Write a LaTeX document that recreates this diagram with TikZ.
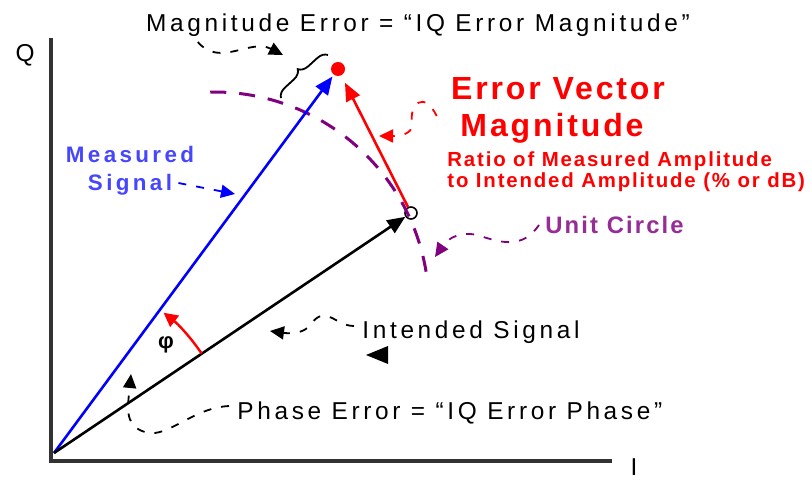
\documentclass[tikz,border=0pt]{standalone}
\usepackage{fontspec}
\setmainfont{Liberation Sans}
\newfontfamily\widefont[LetterSpace=15]{Liberation Sans}
\newfontfamily\boldfont[LetterSpace=9]{Liberation Sans}
\usetikzlibrary{positioning, arrows.meta, decorations.pathreplacing}
\definecolor{axisgray}{RGB}{50,50,50}
\definecolor{evmred}{RGB}{255,0,0}
\definecolor{measblue}{RGB}{0,0,255}
\definecolor{bluetext}{RGB}{70,70,255}
\definecolor{unitpurple}{RGB}{128,0,128}
\definecolor{purpletext}{RGB}{150,45,150}

\begin{document}
\begin{tikzpicture}[
        x=0.5pt, y=-0.5pt,
        axis/.style={line width=1.6pt, draw=axisgray},
        vec/.style={line width=1.3pt, -{Triangle[length=9pt, width=7.5pt]}},
        unitarc/.style={line width=1.5pt, draw=unitpurple, dash pattern=on 8pt off 6.5pt},
        callout/.style={line width=0.9pt, dash pattern=on 4pt off 5pt, -{Triangle[length=7pt, width=6.5pt]}},
        lbl/.style={inner sep=0pt, font=\widefont\fontsize{12.2}{14}\selectfont},
        bluelbl/.style={inner sep=0pt, text=bluetext, font=\widefont\bfseries\fontsize{11.2}{14}\selectfont},
        redbig/.style={inner sep=0pt, text=evmred, font=\boldfont\bfseries\fontsize{16}{18}\selectfont},
        redsmall/.style={inner sep=0pt, text=evmred, font=\boldfont\bfseries\fontsize{10.2}{11}\selectfont},
        purplelbl/.style={inner sep=0pt, text=purpletext, font=\boldfont\bfseries\fontsize{11.9}{14}\selectfont},
    ]
    \useasboundingbox (0,0) rectangle (812,480);

    \coordinate (qtop) at (51,38);
    \coordinate (corner) at (51,461);
    \coordinate (iend) at (612,461);
    \coordinate (O) at (54,453);
    \draw[axis] (qtop) -- (corner) -- (iend);
    \node[lbl, anchor=base] (qlbl) at (25,62) {Q};
    \node[lbl, anchor=base] (ilbl) at (634,475) {I};

    \node[circle, fill=evmred, minimum size=7pt, inner sep=0pt] (dot) at (338,69) {};
    \node[circle, draw, line width=0.8pt, minimum size=6pt, inner sep=0pt] (ideal) at (411,213) {};

    \draw[unitarc] ([shift={(-91:215)}]214,307) arc[start angle=-91, end angle=-6, radius=215];

    \draw[vec, measblue, shorten >=1pt] (O) -- (dot);
    \draw[vec] (O) -- (ideal);
    \draw[vec, evmred, shorten >=4pt] (ideal) -- (dot);

    \draw[line width=1.2pt, evmred, -{Triangle[length=7pt, width=7pt]}] ([shift={(-34:178)}]O) arc[start angle=-34, end angle=-52, radius=178];
    \node[inner sep=0pt, font=\bfseries\fontsize{11}{11}\selectfont] (phi) at (166,345) {φ};

    \coordinate (brlow) at (281,98);
    \coordinate (brhigh) at (328,55);
    \draw[line width=0.9pt, decorate, decoration={brace, amplitude=5pt}] (brlow) -- (brhigh);

    \node[lbl, anchor=base] (magerr) at (418,32) {Magnitude Error = “IQ Error Magnitude”};
    \node[bluelbl, anchor=base] (meas) at (130,163) {Measured};
    \node[bluelbl, anchor=base] (sig) at ([yshift=-14pt]meas.base) {Signal};
    \node[redbig, anchor=base] (evm1) at (558,100) {Error Vector};
    \node[redbig, anchor=base] (evm2) at ([xshift=-3pt, yshift=-18.5pt]evm1.base) {Magnitude};
    \node[redsmall, anchor=base west] (ratio1) at (447,167) {Ratio of Measured Amplitude};
    \node[redsmall, anchor=base west] (ratio2) at ([yshift=-10.5pt]ratio1.base west) {to Intended Amplitude (\% or dB)};
    \node[purplelbl, anchor=base west] (unit) at (545,234) {Unit Circle};
    \node[lbl, anchor=base west] (intended) at (362,338) {Intended Signal};
    \node[lbl, anchor=base west] (phase) at (237,419) {Phase Error = “IQ Error Phase”};

    \coordinate (magto) at (283,55);
    \coordinate (measto) at (235,194);
    \coordinate (evmto) at (379,136);
    \coordinate (unitto) at (435,257);
    \coordinate (intto) at (270,331);
    \coordinate (phaseto) at (131,374);

    \draw[callout] ([shift={(52,10)}]magerr.base west) .. controls (220,68) and (250,38) .. (magto);
    \draw[callout, measblue] ([shift={(6,-8)}]sig.base east) -- (measto);
    \draw[callout, evmred] ([shift={(-14,16)}]evm1.base west) .. controls (424,90) and (409,104) .. (412,124) .. controls (413,134) and (400,136) .. (evmto);
    \draw[callout, unitpurple] ([shift={(-6,-9)}]unit.base west) .. controls (522,250) and (500,242) .. (480,236) .. controls (462,230) and (448,238) .. (unitto);
    \draw[callout] ([shift={(-8,-12)}]intended.base west) .. controls (335,326) and (326,304) .. (311,324) .. controls (305,333) and (292,334) .. (intto);
    \draw[callout] ([shift={(-8,-13)}]phase.base west) .. controls (190,408) and (165,442) .. (142,431) .. controls (124,424) and (128,405) .. (phaseto);
    \fill (366,355) -- (388,346) -- (388,364) -- cycle;
\end{tikzpicture}
\end{document}
